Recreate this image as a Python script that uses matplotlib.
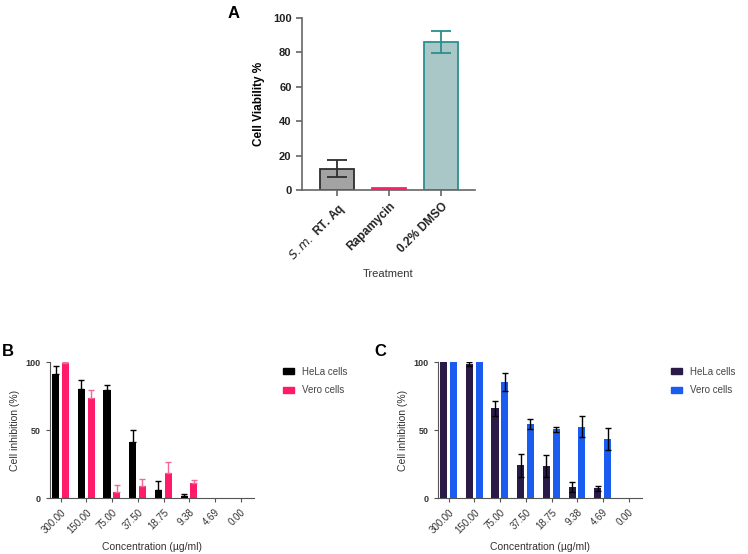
import numpy as np
import matplotlib
matplotlib.use('Agg')
from matplotlib import pyplot as plt
from matplotlib.patches import Patch

# panel A
treat = ['$\\it{S.m.}$ RT. Aq', 'Rapamycin', '0.2% DMSO']
viab = [12.5, 1.0, 86.0]
viab_err = [5.0, 0.0, 6.5]

# panels B, C
conc = ['300.00', '150.00', '75.00', '37.50', '18.75', '9.38', '4.69', '0.00']
b_hela = [91.5, 80.3, 79.4, 41.4, 5.8, 1.3, 0, 0]
b_hela_err = [5.8, 6.3, 4.0, 8.3, 6.5, 1.5, 0, 0]
b_vero = [99.5, 73.5, 4.7, 8.9, 18.2, 11.3, 0, 0]
b_vero_err = [0.5, 5.8, 4.7, 5.1, 8.3, 2.0, 0, 0]
c_hela = [100, 98.2, 66.0, 24.0, 23.5, 8.2, 7.0, 0]
c_hela_err = [0, 1.5, 5.5, 8.3, 8.0, 3.5, 1.5, 0]
c_vero = [100, 100, 85.2, 54.4, 50.5, 52.5, 43.6, 0]
c_vero_err = [0, 0, 6.5, 3.8, 1.8, 7.5, 8.0, 0]

plt.rcParams['font.family'] = ['Liberation Sans', 'DejaVu Sans']
fig = plt.figure(figsize=(7.48, 5.54), dpi=100)

# ---- A
ax = fig.add_axes([302/748, 1-190/554, 173/748, 172/554])
x = np.arange(3)
fills = ['#a3a3a3', '#ff1f6b', '#a9c7c6']
edges = ['#2e2e2e', '#ff1f6b', '#2b8f8f']
for i in range(3):
    ax.bar(x[i], viab[i], 0.65, color=fills[i], edgecolor=edges[i], linewidth=1.3, zorder=2)
    if viab_err[i] > 0:
        ax.errorbar(x[i], viab[i], yerr=viab_err[i], color=edges[i], capsize=7,
                    elinewidth=1.3, capthick=1.3, zorder=3)
ax.set_xlim(-0.68, 2.65)
ax.set_ylim(0, 100)
ax.set_yticks([0, 20, 40, 60, 80, 100])
ax.set_xticks(x)
ax.set_xticklabels(treat, rotation=45, ha='right', rotation_mode='anchor',
                   fontsize=8.5, fontweight='bold')
ax.get_xticklabels()[0].set_color('#333333')
for t in ax.get_yticklabels():
    t.set_fontweight('bold')
    t.set_fontsize(8)
for s in ['top', 'right']:
    ax.spines[s].set_visible(False)
for s in ['left', 'bottom']:
    ax.spines[s].set_color('#666666')
    ax.spines[s].set_linewidth(1.2)
ax.tick_params(colors='#222222', length=4, width=1.2, color='#666666')
ax.set_ylabel('Cell Viability %', fontsize=8.5, fontweight='bold', labelpad=6)
ax.set_xlabel('Treatment', fontsize=8, color='#333333', labelpad=4)
fig.text(228/748, 1-14/554, 'A', fontsize=12, fontweight='bold', va='center')


def panel(left, hela, hela_err, vero, vero_err, c1, c2, ec2, both, letter, lx):
    ax = fig.add_axes([left/748, 1-498/554, 204/748, 136/554])
    xs = np.arange(len(conc))
    ax.bar(xs - 0.2, hela, 0.28, color=c1, zorder=2)
    ax.bar(xs + 0.18, vero, 0.28, color=c2, zorder=2)
    he = [hela_err, hela_err] if both else [np.zeros(len(conc)), hela_err]
    ve = [vero_err, vero_err] if both else [np.zeros(len(conc)), vero_err]
    hm = [i for i in range(len(conc)) if hela_err[i] > 0]
    vm = [i for i in range(len(conc)) if vero_err[i] > 0]
    ax.errorbar(xs[hm] - 0.2, np.array(hela)[hm], yerr=np.array(he)[:, hm], fmt='none',
                ecolor='black', capsize=2, elinewidth=1, capthick=1, zorder=3)
    ax.errorbar(xs[vm] + 0.18, np.array(vero)[vm], yerr=np.array(ve)[:, vm], fmt='none',
                ecolor=ec2, capsize=2, elinewidth=1, capthick=1, zorder=3)
    ax.set_xlim(-0.42, 7.52)
    ax.set_ylim(0, 100)
    ax.set_yticks([0, 50, 100])
    ax.set_xticks(xs)
    ax.set_xticklabels(conc, rotation=45, ha='right', rotation_mode='anchor', fontsize=7)
    for t in ax.get_yticklabels():
        t.set_fontsize(6.5)
        t.set_fontweight('bold')
    for s in ['top', 'right']:
        ax.spines[s].set_visible(False)
    for s in ['left', 'bottom']:
        ax.spines[s].set_color('#555555')
    ax.tick_params(colors='#333333', length=3, color='#555555')
    ax.set_ylabel('Cell inhibition (%)', fontsize=7.5, color='#333333')
    ax.set_xlabel('Concentration (µg/ml)', fontsize=7.5, color='#333333', labelpad=5)
    ax.legend(handles=[Patch(color=c1, label='HeLa cells'), Patch(color=c2, label='Vero cells')],
              loc='upper left', bbox_to_anchor=(1.1, 1.03), frameon=False, fontsize=7,
              handlelength=1.1, handleheight=0.6, labelspacing=0.9, labelcolor='#444444')
    fig.text(lx/748, 1-352/554, letter, fontsize=12, fontweight='bold', va='center')


panel(50, b_hela, b_hela_err, b_vero, b_vero_err, 'black', '#ff1a6a', '#f06a95', False, 'B', 2)
panel(438, c_hela, c_hela_err, c_vero, c_vero_err, '#2a1a48', '#1a5cf0', 'black', True, 'C', 374)

fig.savefig('out.png', dpi=100)
